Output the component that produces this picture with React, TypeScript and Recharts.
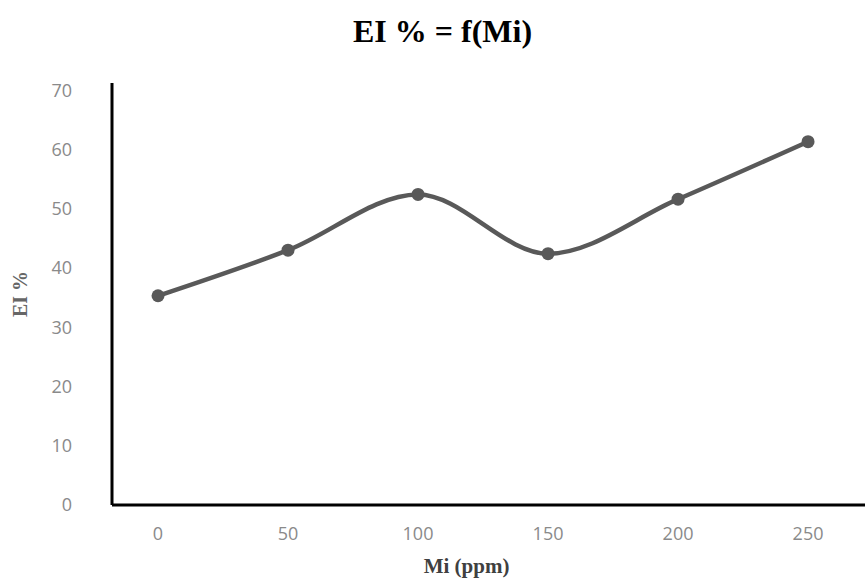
import { LineChart, Line, XAxis, YAxis, Label } from "recharts";

const miValues = [0, 50, 100, 150, 200, 250];
const eiValues = [35.3, 43.0, 52.4, 42.4, 51.6, 61.3];
const xTicks = [0, 50, 100, 150, 200, 250];
const yTicks = [0, 10, 20, 30, 40, 50, 60, 70];

const data = miValues.map((mi, i) => ({ mi, ei: eiValues[i] }));

const serif = "'Liberation Serif', 'Times New Roman', serif";
const tickStyle = { fill: "#8a8a8a", fontSize: 18, fontFamily: "'Open Sans', sans-serif" };

export default function App() {
  return (
    <div
      style={{
        position: "absolute",
        left: 0,
        top: 0,
        width: 865,
        height: 579,
        background: "#fff",
      }}
    >
      <div
        style={{
          position: "absolute",
          left: 10,
          top: 15,
          width: 865,
          textAlign: "center",
          fontFamily: serif,
          fontWeight: "bold",
          fontSize: 32,
          lineHeight: "32px",
          color: "#000",
        }}
      >
        EI % = f(Mi)
      </div>
      <LineChart
        width={865}
        height={579}
        data={data}
        margin={{ top: 83, right: 0, bottom: 0, left: 0 }}
      >
        <XAxis
          dataKey="mi"
          type="number"
          domain={[-17.7, 271.9]}
          ticks={xTicks}
          allowDataOverflow
          axisLine={{ stroke: "#000", strokeWidth: 3 }}
          tickLine={false}
          tickSize={20}
          tickMargin={2}
          height={74}
          tick={tickStyle}
        >
          <Label
            value="Mi (ppm)"
            position="insideBottom"
            offset={6}
            dx={-22}
            style={{ fontFamily: serif, fontWeight: "bold", fontSize: 21, fill: "#404040" }}
          />
        </XAxis>
        <YAxis
          type="number"
          domain={[0, 71.2]}
          ticks={yTicks}
          allowDataOverflow
          axisLine={{ stroke: "#000", strokeWidth: 3 }}
          tickLine={false}
          tickSize={38}
          tickMargin={2}
          width={112}
          tick={tickStyle}
        >
          <Label
            value="EI %"
            angle={-90}
            position="insideLeft"
            offset={20}
            textAnchor="middle"
            style={{ fontFamily: serif, fontWeight: "bold", fontSize: 20, fill: "#666" }}
          />
        </YAxis>
        <Line
          dataKey="ei"
          type="monotone"
          stroke="#595959"
          strokeWidth={4.5}
          dot={{ r: 6.5, fill: "#595959", stroke: "#595959", strokeWidth: 0 }}
          activeDot={false}
          isAnimationActive={false}
        />
      </LineChart>
    </div>
  );
}
